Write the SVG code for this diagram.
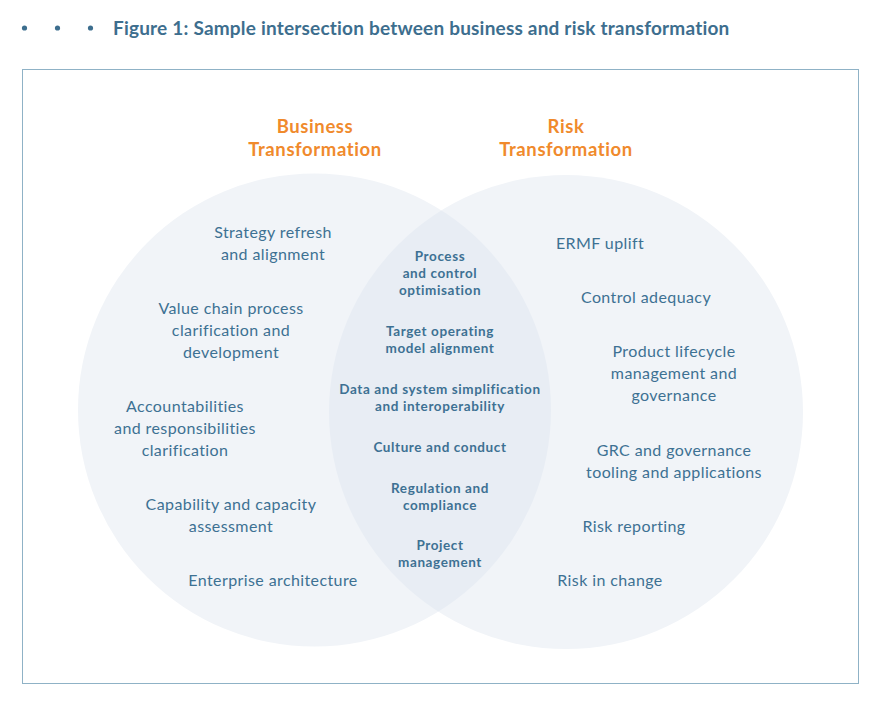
<svg xmlns="http://www.w3.org/2000/svg" width="884" height="708" viewBox="0 0 884 708">
<defs>
<style>
.t{font-family:Lato,"Open Sans","Liberation Sans",sans-serif;fill:#3d7193;text-anchor:middle;font-size:16px;letter-spacing:0.4px}
.m{font-family:Lato,"Open Sans","Liberation Sans",sans-serif;fill:#3d7193;text-anchor:middle;font-size:13.5px;font-weight:bold;letter-spacing:0.6px}
.h{font-family:Lato,"Open Sans","Liberation Sans",sans-serif;fill:#f08a2c;text-anchor:middle;font-size:18.5px;font-weight:bold;letter-spacing:0.6px}
</style>
<clipPath id="cl"><circle cx="314.5" cy="410" r="236.5"/></clipPath>
</defs>
<rect width="884" height="708" fill="#ffffff"/>
<g id="title">
<circle cx="24.5" cy="28" r="2.6" fill="#3d6e8e"/>
<circle cx="57.5" cy="28" r="2.6" fill="#3d6e8e"/>
<circle cx="90.5" cy="28" r="2.6" fill="#3d6e8e"/>
<text x="113" y="35" font-family="Lato,'Open Sans','Liberation Sans',sans-serif" font-size="19" font-weight="bold" letter-spacing="0.2" fill="#3d6e8e">Figure 1: Sample intersection between business and risk transformation</text>
</g>
<rect x="22.5" y="69.5" width="836" height="614" fill="none" stroke="#8fb2c6" stroke-width="1"/>
<g id="business-circle">
<circle cx="314.5" cy="410" r="236.5" fill="#f1f4f8"/>
</g>
<g id="risk-circle">
<circle cx="566" cy="412" r="237" fill="#f1f4f8"/>
<circle cx="566" cy="412" r="237" fill="#e8edf4" clip-path="url(#cl)"/>
</g>
<g id="heading-business"><text class="h" x="315" y="133">Business</text><text class="h" x="315" y="156">Transformation</text></g>
<g id="heading-risk"><text class="h" x="566" y="133">Risk</text><text class="h" x="566" y="156">Transformation</text></g>
<g id="b1"><text class="t" x="273" y="238">Strategy refresh</text><text class="t" x="273" y="260">and alignment</text></g>
<g id="b2"><text class="t" x="231" y="314">Value chain process</text><text class="t" x="231" y="336">clarification and</text><text class="t" x="231" y="358">development</text></g>
<g id="b3"><text class="t" x="185" y="412">Accountabilities</text><text class="t" x="185" y="434">and responsibilities</text><text class="t" x="185" y="456">clarification</text></g>
<g id="b4"><text class="t" x="231" y="510">Capability and capacity</text><text class="t" x="231" y="532">assessment</text></g>
<g id="b5"><text class="t" x="273" y="586">Enterprise architecture</text></g>
<g id="r1"><text class="t" x="600" y="249">ERMF uplift</text></g>
<g id="r2"><text class="t" x="646" y="303">Control adequacy</text></g>
<g id="r3"><text class="t" x="674" y="357">Product lifecycle</text><text class="t" x="674" y="379">management and</text><text class="t" x="674" y="401">governance</text></g>
<g id="r4"><text class="t" x="674" y="456">GRC and governance</text><text class="t" x="674" y="478">tooling and applications</text></g>
<g id="r5"><text class="t" x="634" y="532">Risk reporting</text></g>
<g id="r6"><text class="t" x="610" y="586">Risk in change</text></g>
<g id="m1"><text class="m" x="440" y="261">Process</text><text class="m" x="440" y="278">and control</text><text class="m" x="440" y="295">optimisation</text></g>
<g id="m2"><text class="m" x="440" y="336">Target operating</text><text class="m" x="440" y="353">model alignment</text></g>
<g id="m3"><text class="m" x="440" y="394">Data and system simplification</text><text class="m" x="440" y="411">and interoperability</text></g>
<g id="m4"><text class="m" x="440" y="452">Culture and conduct</text></g>
<g id="m5"><text class="m" x="440" y="493">Regulation and</text><text class="m" x="440" y="510">compliance</text></g>
<g id="m6"><text class="m" x="440" y="550">Project</text><text class="m" x="440" y="567">management</text></g>
<g id="connectors"/>
</svg>
